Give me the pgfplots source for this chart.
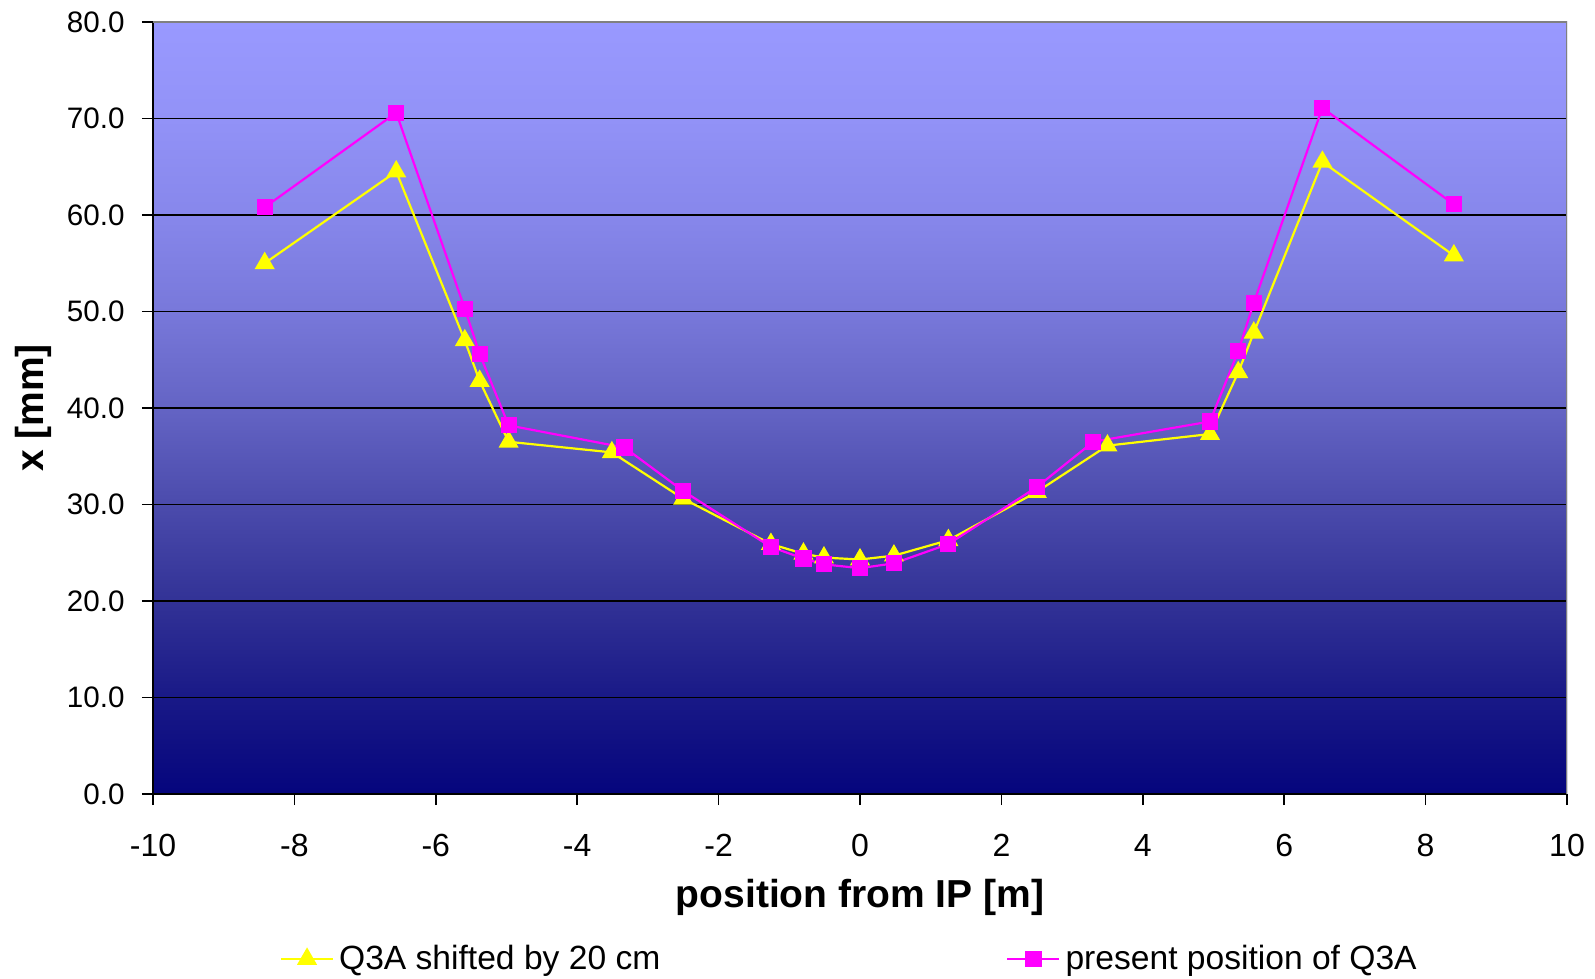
\documentclass[border=0pt]{standalone}
\usepackage{fontspec}
\setmainfont{Liberation Sans}
\usepackage{pgfplots}
\pgfplotsset{compat=1.18}

\definecolor{qyellow}{RGB}{255,255,0}
\definecolor{qmagenta}{RGB}{255,0,255}

% plot area 25bp (y=0) .. 75bp (y=80), one step of 10 = 6.25bp
\pgfdeclareverticalshading{plotbg}{100bp}{%
  rgb(0bp)=(0.020,0.020,0.490);
  rgb(25bp)=(0.020,0.020,0.490);
  rgb(31.25bp)=(0.098,0.098,0.529);
  rgb(37.5bp)=(0.196,0.196,0.588);
  rgb(43.75bp)=(0.294,0.294,0.675);
  rgb(50bp)=(0.392,0.392,0.769);
  rgb(56.25bp)=(0.471,0.471,0.855);
  rgb(62.5bp)=(0.529,0.529,0.922);
  rgb(68.75bp)=(0.573,0.573,0.969);
  rgb(75bp)=(0.6,0.6,1);
  rgb(100bp)=(0.6,0.6,1)}

\begin{document}
\begin{tikzpicture}
\begin{axis}[
    scale only axis,
    width=707pt, height=386pt,
    xmin=-10, xmax=10, ymin=0, ymax=80,
    xtick={-10,-8,...,10},
    ytick={0,10,...,80},
    /pgf/number format/assume math mode=true,
    yticklabel={\pgfmathprintnumber[fixed,fixed zerofill,precision=1]{\tick}},
    xticklabel style={font=\fontsize{16}{19}\selectfont},
    yticklabel style={font=\fontsize{14.8}{18}\selectfont},
    tick align=outside,
    major tick length=5.5pt,
    tick style={black, line width=0.8pt},
    axis x line*=bottom, axis y line*=left,
    axis line style={black, line width=1pt, -},
    xtick pos=bottom, ytick pos=left,
    ymajorgrids=true,
    grid style={black, line width=0.8pt},
    axis background/.style={shading=plotbg},
    yticklabel style={anchor=east, inner sep=0pt, xshift=-8.5pt},
    xticklabel style={anchor=base, inner sep=0pt, yshift=-25.5pt},
    xlabel={position from IP [m]},
    ylabel={x [mm]},
    label style={font=\fontsize{19.5}{23}\selectfont\bfseries},
    xlabel style={at={(axis description cs:0.5,-0.1475)}, anchor=base},
    ylabel style={at={(axis description cs:-0.0849,0.5)}, anchor=center},
    legend columns=2,
    legend style={at={(axis description cs:0.0895,-0.2137)}, anchor=west,
        draw=none, fill=none, inner sep=0pt,
        font=\fontsize{16.8}{19}\selectfont,
        /tikz/every odd column/.append style={column sep=1.5pt},
        /tikz/every even column/.append style={column sep=172pt},
        nodes={inner sep=1pt}},
    legend image code/.code={%
        \draw[mark repeat=2,mark phase=2] plot coordinates {(0pt,0pt) (13pt,0pt) (26pt,0pt)};},
]

\addplot[qyellow, line width=1.1pt, mark=triangle*, mark size=4.7pt,
    mark options={solid, fill=qyellow, draw=qyellow}] coordinates {
(-8.42,55.0) (-6.56,64.5) (-5.59,47.0) (-5.38,42.8) (-4.97,36.5)
(-3.51,35.4) (-2.50,30.6) (-1.26,25.9) (-0.80,24.9) (-0.51,24.5)
(0.00,24.3) (0.48,24.7) (1.25,26.3) (2.50,31.3) (3.50,36.1)
(4.95,37.3) (5.35,43.7) (5.57,47.8) (6.54,65.5) (8.40,55.8)
};
\addlegendentry{Q3A shifted by 20 cm}

\addplot[qmagenta, line width=1.1pt, mark=square*, mark size=3.5pt,
    mark options={solid, fill=qmagenta, draw=qmagenta}] coordinates {
(-8.42,60.8) (-6.56,70.6) (-5.59,50.3) (-5.38,45.6) (-4.97,38.2)
(-3.33,35.9) (-2.50,31.4) (-1.26,25.6) (-0.80,24.4) (-0.51,23.8)
(0.00,23.4) (0.48,23.9) (1.25,25.9) (2.50,31.8) (3.30,36.5)
(4.95,38.6) (5.35,45.9) (5.57,50.9) (6.54,71.1) (8.40,61.1)
};
\addlegendentry{present position of Q3A}

\draw[gray, line width=1pt] (rel axis cs:0,1) -- (rel axis cs:1,1) -- (rel axis cs:1,0);
\end{axis}
\path (current axis.south west) ++(-76.5pt,-92.5pt) rectangle ++(797.5pt,489.5pt);
\end{tikzpicture}
\end{document}
